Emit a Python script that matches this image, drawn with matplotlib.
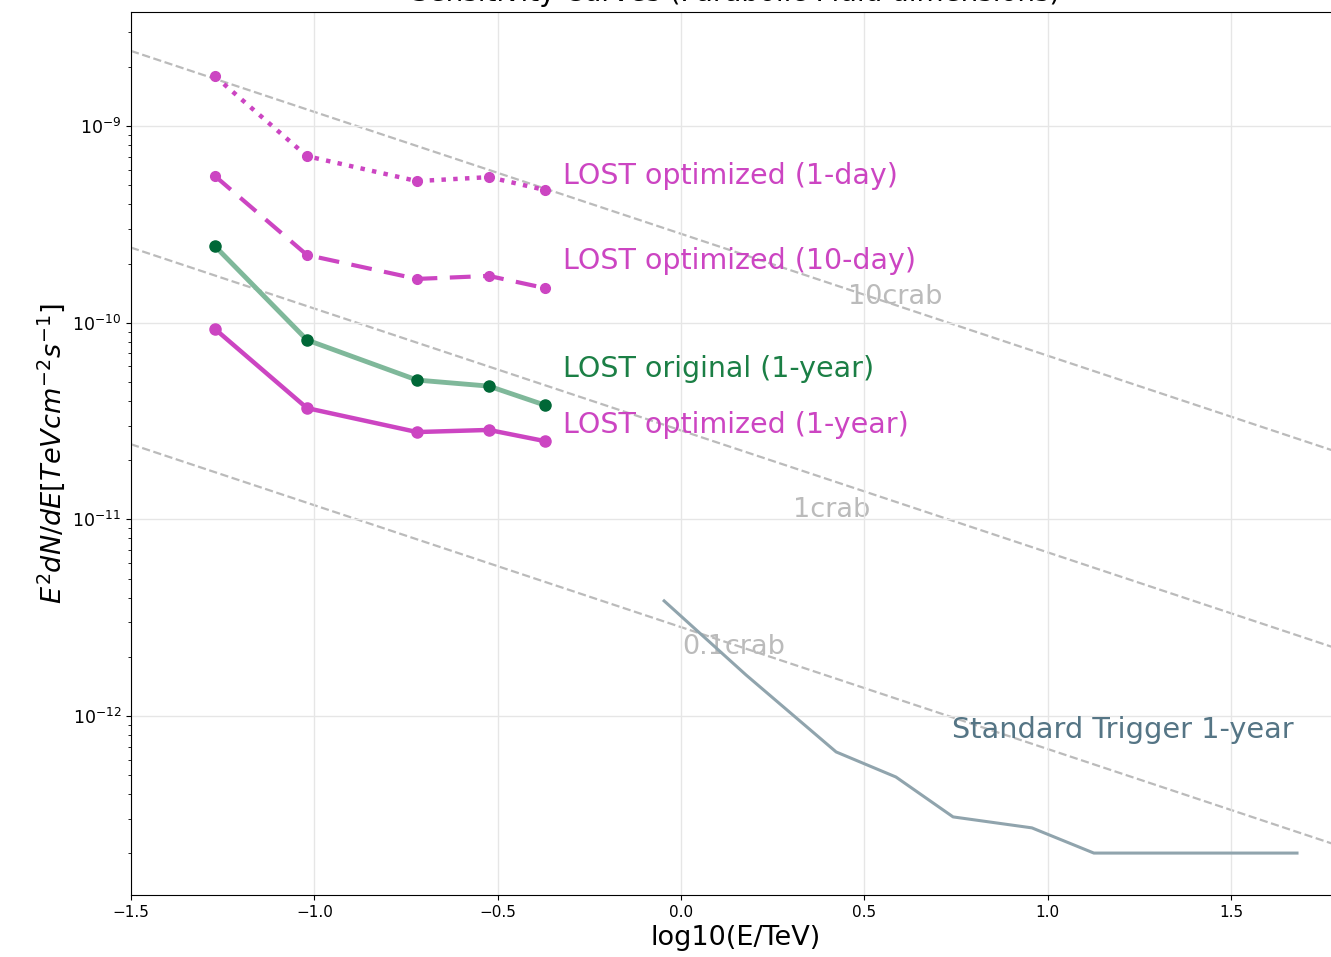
import numpy as np
import matplotlib
matplotlib.use("Agg")
import matplotlib.pyplot as plt

# ---------------- data ----------------
lost_x = [-1.271, -1.020, -0.720, -0.524, -0.371]
lost_opt_1day = [1.79e-9, 7.03e-10, 5.25e-10, 5.50e-10, 4.73e-10]
lost_opt_10day = [5.57e-10, 2.21e-10, 1.67e-10, 1.73e-10, 1.50e-10]
lost_orig_1yr = [2.45e-10, 8.17e-11, 5.11e-11, 4.76e-11, 3.81e-11]
lost_opt_1yr = [9.29e-11, 3.68e-11, 2.78e-11, 2.85e-11, 2.50e-11]

std_x = [-0.046, 0.177, 0.423, 0.586, 0.742, 0.957, 1.126, 1.680]
std_1yr = [3.85e-12, 1.62e-12, 6.57e-13, 4.90e-13, 3.07e-13, 2.70e-13, 2.01e-13, 2.01e-13]

crab_x = [-1.5, 1.8]
crab_flux = [2.41e-10, 2.17e-12]
crab_scales = [10, 1, 0.1]
crab_labels = ["10crab", "1crab", "0.1crab"]
crab_label_x = [0.455, 0.305, 0.003]
crab_label_y = [1.35e-10, 1.11e-11, 2.25e-12]

label_texts = ["LOST optimized (1-day)", "LOST optimized (10-day)",
               "LOST original (1-year)", "LOST optimized (1-year)"]
label_y = [5.57e-10, 2.06e-10, 5.81e-11, 3.02e-11]

MAG = (0.80, 0.27, 0.76)
GREEN_LINE = "#7fb89a"
GREEN_MARK = "#006837"
GREEN_TEXT = "#1b7f45"
STD_LINE = "#90a4ad"
STD_TEXT = "#557585"

fig = plt.figure(figsize=(13.31, 9.57), dpi=100)
ax = fig.add_axes([131 / 1331, 1 - 895 / 957, (1341 - 131) / 1331, (895 - 12) / 957])

for s, lab, lx, ly in zip(crab_scales, crab_labels, crab_label_x, crab_label_y):
    ax.plot(crab_x, [f * s for f in crab_flux], ls="--", color="#bbbbbb", lw=1.6, zorder=1)
    ax.text(lx, ly, lab, color="#bbbbbb", fontsize=19.5, va="center", ha="left", zorder=1)

ax.plot(lost_x, lost_opt_1day, ls=":", lw=3.2, color=MAG, marker="o", ms=7, zorder=3)
ax.plot(lost_x, lost_opt_10day, ls=(0, (5, 3)), lw=3.0, color=MAG, marker="o", ms=7, zorder=3)
ax.plot(lost_x, lost_orig_1yr, ls="-", lw=3.5, color=GREEN_LINE, zorder=3)
ax.plot(lost_x, lost_orig_1yr, ls="none", color=GREEN_MARK, marker="o", ms=8, zorder=4)
ax.plot(lost_x, lost_opt_1yr, ls="-", lw=3.2, color=MAG, marker="o", ms=8, zorder=3)
ax.plot(std_x, std_1yr, ls="-", lw=2.2, color=STD_LINE, zorder=3)

tx = -0.322
label_colors = [MAG, MAG, GREEN_TEXT, MAG]
for t, y, c in zip(label_texts, label_y, label_colors):
    ax.text(tx, y, t, color=c, fontsize=20.5, va="center")
ax.text(0.739, 8.49e-13, "Standard Trigger 1-year", color=STD_TEXT, fontsize=20.7, va="center")

ax.set_yscale("log")
ax.set_xlim(-1.5, 1.8)
ax.set_ylim(10 ** -12.91, 10 ** -8.42)
ax.set_xticks([-1.5, -1.0, -0.5, 0.0, 0.5, 1.0, 1.5])
ax.grid(True, which="major", color="#e6e6e6", lw=1)
ax.tick_params(axis="x", labelsize=11)
ax.tick_params(axis="y", labelsize=12.5)
ax.set_xlabel("log10(E/TeV)", fontsize=19.5)
ax.set_ylabel(r"$E^2dN/dE[TeV cm^{-2}s^{-1}]$", fontsize=19.5)
ax.set_title("Sensitivity Curves (Parabolic Fluid dimensions)", fontsize=20, pad=8)

fig.savefig("out.png", dpi=100)
